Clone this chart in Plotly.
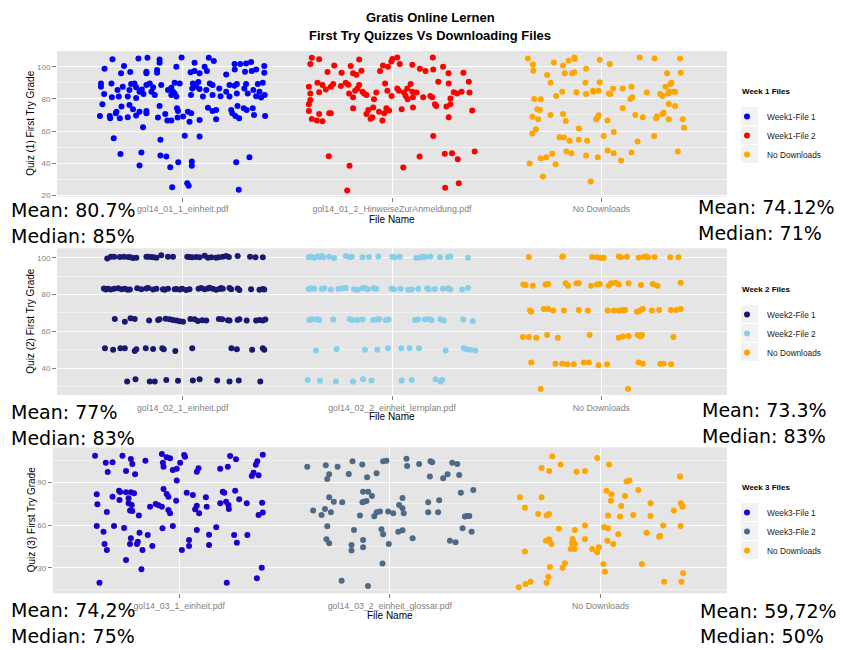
import plotly.graph_objects as go

# ---------------- data ----------------
title_lines = ["Gratis Online Lernen", "First Try Quizzes Vs Downloading Files"]

week1_files = ["gol14_01_1_einheit.pdf", "gol14_01_2_HinweiseZurAnmeldung.pdf", "No Downloads"]
week2_files = ["gol14_02_1_einheit.pdf", "gol14_02_2_einheit_lernplan.pdf", "No Downloads"]
week3_files = ["gol14_03_1_einheit.pdf", "gol14_03_2_einheit_glossar.pdf", "No Downloads"]

legend_titles = ["Week 1 Files", "Week 2 Files", "Week 3 Files"]
week1_names = ["Week1-File 1", "Week1-File 2", "No Downloads"]
week2_names = ["Week2-File 1", "Week2-File 2", "No Downloads"]
week3_names = ["Week3-File 1", "Week3-File 2", "No Downloads"]

stats_left = [("Mean: 80.7%", "Median: 85%"), ("Mean: 77%", "Median: 83%"), ("Mean: 74,2%", "Median: 75%")]
stats_right = [("Mean: 74.12%", "Median: 71%"), ("Mean: 73.3%", "Median: 83%"), ("Mean: 59,72%", "Median: 50%")]

# (jittered category position, grade)
w1_file1 = [
    (0.665,104.6),(0.72,100.4),(0.627,98.8),(0.789,105.2),(0.832,105.6),(0.89,104.5),(0.89,102.5),(0.995,105.8),(0.97,100),(1.057,97.3),
    (1.057,102.5),(1.125,105.6),(1.149,103.5),(1.105,100),(1.116,97.3),(1.038,96.5),(1.081,95.9),(1.248,101.7),(1.275,101.7),(1.303,102),
    (1.327,103),(1.351,98.3),(1.39,100.4),(1.39,96.3),(1.298,96.9),(1.33,97.3),(1.249,98.3),(1.208,95.2),(0.827,96.9),(0.827,95.9),
    (0.75,96.7),(0.706,95.9),(0.878,97.9),(0.878,96.3),
    (0.61,89.6),(0.61,87.6),(0.625,83.0),(0.66,89.6),(0.689,85.5),(0.662,81),(0.695,81.4),(0.714,87.6),(0.738,81.4),(0.746,85.5),
    (0.754,89.2),(0.77,89.6),(0.778,87.2),(0.794,84.5),(0.805,85.9),(0.813,83),(0.778,80.6),(0.827,88.6),(0.843,89.6),(0.859,87.2),
    (0.851,84.5),(0.867,82.4),(0.898,88.6),(0.93,85.5),(0.946,87),(0.946,82.4),(0.962,90),(0.954,84.5),(0.986,89.6),(0.97,81.4),
    (0.962,83.4),(1.04,82.4),(1.046,86.5),(1.049,89.6),(1.065,87.6),(1.075,90.5),(1.081,86.1),(1.113,85.5),(1.13,89.6),(1.143,88.6),
    (1.097,81.4),(1.143,82.4),(1.175,86.5),(1.181,81.7),(1.224,88.6),(1.208,84.5),(1.224,81.4),(1.248,88.2),(1.259,89.2),(1.259,83.4),
    (1.295,86.5),(1.303,89.2),(1.311,83.4),(1.338,85.5),(1.351,81.7),(1.359,89.2),(1.375,80.8),(1.383,90),(1.367,84.5),(1.392,82.4),
    (0.605,69.4),(0.617,76.6),(0.652,69.4),(0.654,68),(0.684,72),(0.681,71),(0.708,75.2),(0.7,68),(0.738,68.6),(0.746,76.2),
    (0.763,73.5),(0.778,69.6),(0.794,72),(0.827,72.5),(0.827,71),(0.882,68.4),(0.89,75.6),(0.917,70.6),(0.927,66.5),(0.946,66.5),
    (0.973,74.1),(0.978,72.5),(0.976,68.4),(1.002,69),(1.025,72),(1.033,65.8),(1.041,71),(1.081,66.9),(1.121,74.5),(1.143,72.5),
    (1.16,73.1),(1.16,67.3),(1.232,73.1),(1.237,71),(1.252,69.4),(1.262,75.6),(1.27,68),(1.292,74.1),(1.306,73.1),(1.335,74.1),
    (1.341,70),(1.394,69.4),
    (0.811,62.3),(0.671,55.5),(0.894,54.5),(1.081,56.5),(1.01,57.1),(0.703,45.7),(0.803,46.6),(0.894,44.8),(0.922,44.1),(0.979,40.6),
    (0.941,37.5),(1.044,41),(1.044,38.3),(0.794,38.5),(1.256,40.6),(1.319,43.7),(0.95,25),(1.022,27.5),(1.029,25.9),(1.268,23.4),
]

w1_file2 = [
    (1.617,105.6),(1.610,101.7),(1.652,104.6),(1.603,87.6),(1.61,83.4),(1.61,79.3),(1.603,76.6),(1.603,72.5),(1.617,67.5),(1.641,66.5),
    (1.668,66),(1.652,70.6),(1.652,84.1),(1.644,90.1),(1.668,88.6),(1.684,85.9),(1.692,96.7),(1.7,71),(1.708,71),(1.708,87.6),
    (1.719,89.2),(1.724,100.8),(1.759,96.3),(1.756,88),(1.779,90.1),(1.792,88.8),(1.795,83.4),(1.803,100.4),(1.814,95.9),(1.814,81),
    (1.814,74.1),(1.83,95),(1.843,104.5),(1.854,97.5),(1.843,88.6),(1.835,86.5),(1.824,85.1),(1.859,84.5),(1.867,83.4),(1.878,82.4),
    (1.878,70.6),(1.887,73.1),(1.898,67.7),(1.906,68.6),(1.91,74.7),(1.914,79.7),(1.925,83.9),(1.938,72),(1.943,97.3),(1.957,100.8),
    (1.954,66.5),(1.967,89.6),(1.963,71),(1.973,74.1),(1.978,85.1),(1.981,100),(1.986,72.7),(1.997,103.3),(2.002,104.8),(2.025,105.8),
    (2.037,101.7),(1.998,81.8),(2.025,86.5),(2.033,85.1),(2.046,73.5),(2.057,83.9),(2.065,81.8),(2.073,86.5),(2.075,79.7),(2.089,89.2),
    (2.097,101.2),(2.097,84.5),(2.1,81),(2.1,74.7),(2.117,83.9),(2.133,98.8),(2.16,97.3),(2.149,81),(2.183,81.8),(2.192,81),
    (2.195,105.8),(2.197,98.3),(2.205,76.6),(2.211,75.6),(2.221,90.7),(2.244,100),(2.27,95.9),(2.271,89.6),(2.279,80.3),(2.279,76.6),
    (2.26,75.2),(2.295,84.1),(2.311,83.4),(2.332,84.5),(2.341,96.3),(2.367,90.7),(2.37,83.9),(2.383,72.7),(2.271,68.6),(2.197,56.9),
    (1.698,44.3),(1.797,38.3),(1.786,23),(2.054,37.3),(2.132,44.1),(2.252,45.8),(2.287,46.2),(2.314,42.4),(2.395,47.2),(2.254,24.6),
    (2.319,27.5),
]

w1_none = [
    (2.649,105.2),(2.673,101.4),(2.675,97.5),(2.741,94.8),(2.757,90.1),(2.773,102.7),(2.817,100.8),(2.844,103.7),(2.871,105.8),(2.873,104.8),
    (2.86,95.9),(2.871,96.5),(2.825,95.9),(2.927,98.8),(2.992,104.3),(3.04,101.7),(3.183,105.8),(3.254,105.2),(3.376,105.2),(3.314,95.9),
    (3.379,96.3),(2.924,90.1),(2.992,90.3),(2.679,79.9),(2.71,79.7),(2.784,81.8),(2.813,84.5),(2.881,84.1),(2.927,83),(2.963,84.5),
    (2.96,85.1),(2.987,85.1),(3.035,83.4),(3.043,83),(3.056,86.5),(3.102,86.5),(3.144,87.6),(3.138,79.9),(3.148,81),(3.217,83.9),
    (3.281,83),(3.292,81.8),(3.306,87.6),(3.33,89.2),(3.335,90.1),(3.325,84.5),(3.319,83.4),(3.346,84.5),(3.352,84.5),(3.322,76.8),
    (3.352,75.6),(2.694,73.5),(2.706,73.1),(2.671,68.9),(2.698,67.3),(2.757,70),(2.817,70.6),(2.83,66.3),(2.687,61.1),(2.67,58.4),
    (2.892,61.5),(2.987,69.8),(2.983,68.6),(2.975,67.3),(3.03,66.5),(3.102,74.1),(3.162,70),(3.198,68.6),(3.262,68),(3.265,69),
    (3.297,71.4),(3.292,70.6),(3.322,67.3),(3.389,67.3),(3.395,62.1),(2.8,56.1),(2.821,55.9),(2.848,54),(2.892,54.5),(2.932,54),
    (3.011,56.9),(3.059,59.4),(3.173,53.4),(3.252,56.9),(2.71,43.1),(2.737,43.7),(2.765,45.8),(2.781,39.3),(2.833,47.2),(2.857,46.2),
    (2.927,44.8),(2.983,43.7),(3.03,47.8),(3.059,46.2),(3.094,41.6),(3.144,46.6),(3.365,47.2),(2.657,39.8),(2.721,31.7),(2.949,28.6),
]

w2_file1 = [
    (0.640,99.6),(0.657,100.5),(0.673,100.5),(0.700,100.4),(0.719,100.5),(0.740,100.4),(0.751,100.2),(0.763,99.8),(0.779,100),(0.827,100.5),
    (0.838,100.5),(0.851,100.4),(0.862,100.2),(0.875,100),(0.898,101.3),(0.930,100.5),(0.954,100.5),(1.022,100.5),(1.033,100.4),(1.046,100.2),
    (1.065,100.4),(1.081,100.2),(1.105,101.1),(1.121,100),(1.137,100.2),(1.160,100),(1.173,100.2),(1.192,100.5),(1.208,100.9),(1.221,100.4),
    (1.263,100.9),(1.322,100.5),(1.348,100.2),(1.383,100.2),
    (0.624,83.3),(0.633,82.8),(0.644,83.1),(0.657,82.7),(0.673,83.2),(0.692,83.4),(0.708,82.9),(0.724,83.1),(0.737,82.6),(0.748,82.8),
    (0.783,83.4),(0.803,82.9),(0.827,83.3),(0.835,83.6),(0.859,82.8),(0.875,83.2),(0.906,82.9),(0.914,82.6),(0.930,83.1),(0.962,82.9),
    (0.970,83.0),(0.986,82.8),(0.998,83.2),(1.017,82.5),(1.033,82.9),(1.076,83.2),(1.089,83.6),(1.105,82.9),(1.121,83.3),(1.129,83.7),
    (1.144,83.1),(1.160,82.6),(1.176,83.0),(1.184,83.6),(1.192,83.2),(1.224,83.5),(1.232,82.9),(1.263,83.3),(1.271,82.5),(1.327,82.9),
    (1.367,82.6),(1.383,83.0),(1.390,82.7),
    (0.676,66.8),(0.724,65.3),(0.751,67.1),(0.771,66.8),(0.840,65.9),(0.883,66.2),(0.890,66.6),(0.919,66.9),(0.938,66.6),(0.954,66.2),
    (0.970,65.9),(0.986,65.5),(1.002,65.3),(1.037,66.8),(1.057,66.6),(1.073,65.7),(1.094,66.0),(1.113,65.9),(1.173,66.8),(1.189,66.6),
    (1.216,66.0),(1.224,65.9),(1.263,66.2),(1.271,66.6),(1.306,65.9),(1.351,65.9),(1.367,66.2),(1.383,65.9),(1.395,66.4),
    (0.629,50.9),(0.668,50.0),(0.703,50.9),(0.724,50.9),(0.771,49.4),(0.779,50.3),(0.824,50.9),(0.859,50.5),(0.903,50.9),(0.910,50.3),
    (0.965,49.4),(1.046,50.9),(1.233,50.9),(1.259,50.3),(1.332,50.0),(1.383,50.9),(1.390,50.0),
    (0.735,32.8),(0.775,34.1),(0.843,32.8),(0.867,32.8),(0.922,33.7),(0.978,33.2),(1.049,33.3),(1.081,34.1),(1.165,33.3),(1.224,32.8),
    (1.268,33.3),(1.371,32.8),
]

w2_file2 = [
    (1.602,100.2),(1.613,100.5),(1.629,100.0),(1.644,100.7),(1.656,100.4),(1.665,100.9),(1.671,100.2),(1.700,100.5),(1.724,99.8),(1.779,100.9),
    (1.798,100.2),(1.808,100.5),(1.859,100.2),(1.890,100.4),(1.935,100.7),(2.002,100.5),(2.013,100.2),(2.037,100.5),(2.116,99.8),(2.137,100.2),
    (2.149,100.5),(2.160,100.4),(2.184,100.7),(2.229,100.2),(2.267,100.4),(2.279,100.7),(2.363,100.0),
    (1.602,83.0),(1.613,83.4),(1.629,83.2),(1.665,83.0),(1.676,83.4),(1.708,82.8),(1.744,83.0),(1.763,83.4),(1.779,83.6),(1.819,82.9),
    (1.835,82.6),(1.859,83.4),(1.871,83.6),(1.883,82.9),(1.911,83.4),(1.925,83.2),(1.998,83.3),(2.010,82.7),(2.041,83.2),(2.078,82.6),
    (2.094,82.8),(2.125,83.2),(2.168,83.4),(2.176,82.8),(2.205,83.0),(2.243,83.2),(2.268,83.4),(2.279,82.8),(2.335,82.8),(2.363,83.6),
    (1.605,66.2),(1.617,66.6),(1.640,66.6),(1.652,66.2),(1.719,66.4),(1.798,66.6),(1.811,66.0),(1.835,66.2),(1.859,66.4),(1.910,66.2),
    (1.930,66.4),(1.938,66.6),(1.970,66.2),(1.983,66.4),(2.110,66.2),(2.125,66.4),(2.157,66.4),(2.176,66.6),(2.189,66.0),(2.232,66.6),
    (2.248,65.9),(2.340,66.4),(2.386,65.7),
    (1.637,49.6),(1.735,50.5),(1.871,50.0),(1.930,50.0),(1.981,50.9),(2.044,50.9),(2.084,50.9),(2.129,50.9),(2.256,49.6),(2.343,50.9),
    (2.356,50.3),(2.375,50.0),(2.398,49.6),
    (1.597,33.7),(1.656,33.2),(1.732,32.8),(1.814,32.8),(1.862,34.1),(1.902,33.3),(2.046,33.3),(2.094,33.7),(2.208,34.1),(2.232,32.8),
    (2.240,33.7),
]

w2_none = [
    (2.654,100.4),(2.813,100.5),(2.817,100.7),(2.956,100.4),(2.979,100.2),(2.995,100.0),(3.003,99.8),(3.011,100.0),(3.083,100.7),(3.094,100.2),
    (3.122,100.5),(3.178,100.0),(3.202,100.5),(3.214,100.7),(3.222,100.2),(3.254,100.4),(3.329,100.2),(3.368,100.2),
    (2.627,85.5),(2.638,85.2),(2.673,84.8),(2.733,85.5),(2.746,85.7),(2.829,86.1),(2.841,84.8),(2.881,86.1),(2.892,86.1),(2.951,84.8),
    (2.979,85.5),(2.992,85.7),(3.035,84.8),(3.046,86.1),(3.067,86.4),(3.083,85.5),(3.130,86.1),(3.189,85.2),(3.246,85.7),(3.268,84.8),
    (3.379,86.4),
    (2.659,71.3),(2.665,70.7),(2.725,72.2),(2.746,72.2),(2.770,71.3),(2.821,71.3),(2.892,71.6),(2.935,71.3),(3.030,71.3),(3.059,71.3),
    (3.083,71.3),(3.103,71.6),(3.114,71.6),(3.170,70.7),(3.183,71.3),(3.198,72.2),(3.241,71.3),(3.276,71.6),(3.332,71.6),(3.357,71.6),
    (3.379,72.2),
    (2.625,57.0),(2.654,57.0),(2.689,56.6),(2.741,58.1),(2.792,56.6),(2.944,58.1),(3.083,56.6),(3.103,57.2),(3.130,57.5),(3.173,58.1),
    (3.186,57.2),(3.194,58.1),(3.344,57.0),
    (2.665,43.1),(2.781,42.4),(2.813,42.4),(2.837,42.2),(2.868,42.2),(2.916,43.1),(2.940,43.1),(2.987,41.6),(3.027,42.2),(3.178,43.1),
    (3.198,42.5),(3.281,42.4),(3.297,42.5),(3.333,42.2),
    (2.710,28.8),(3.127,28.8),
]

w3_file1 = [
    (0.601,108.7),(0.652,103.8),(0.684,104.1),(0.661,97.3),(0.731,108.7),(0.771,106.4),(0.778,102.9),(0.748,98),(0.791,95.6),(0.84,105.2),
    (0.918,109.9),(0.923,103.8),(0.926,101),(0.941,107.6),(0.957,106.9),(0.97,98.7),(0.989,99.6),(1.005,103.8),(1.024,109.2),(1.028,108),
    (0.989,91.2),(1.084,97.5),(1.092,99.8),(1.195,99.6),(1.231,101),(1.242,108.5),(1.27,106.2),(1.345,94.4),(1.353,96.8),(1.364,102.4),
    (1.371,104.8),(1.377,94.9),(1.397,109.4),
    (0.609,81.6),(0.612,74.5),(0.657,69.2),(0.684,79.9),(0.715,84.1),(0.72,83.2),(0.717,77.6),(0.748,83),(0.76,78.8),(0.76,75.2),
    (0.771,83),(0.775,74.1),(0.767,70.1),(0.778,69.9),(0.786,82.3),(0.809,66.6),(0.862,72.9),(0.889,74.8),(0.902,73.8),(0.918,72.9),
    (0.926,85.3),(0.941,81.8),(0.949,79.9),(0.949,70.6),(0.957,68.2),(0.986,77.1),(1.036,82.7),(1.065,81.1),(1.076,71),(1.084,73.6),
    (1.095,68.2),(1.127,79.5),(1.131,72.9),(1.195,75.2),(1.207,83.4),(1.214,82.7),(1.223,76.4),(1.234,74.1),(1.236,71.3),(1.266,84.1),
    (1.285,78.1),(1.321,75.2),(1.394,75.7),(1.397,68.7),(1.377,67),
    (0.609,59.3),(0.641,55.3),(0.646,46.7),(0.657,42.5),(0.691,59.3),(0.739,57.9),(0.748,35.4),(0.771,50.7),(0.767,46.7),(0.8,46.7),
    (0.804,48.3),(0.812,54.6),(0.826,42.5),(0.851,53),(0.873,45.3),(0.921,57.7),(0.97,59.3),(1.013,42.5),(1.047,49.5),(1.047,45.3),
    (1.084,56.5),(1.142,53.2),(1.142,46),(1.176,58.4),(1.261,53),(1.274,47.6),(1.324,53),
    (0.622,19.5),(0.821,28.9),(1.226,19.5),(1.369,22.6),(1.392,30),
]

w3_file2 = [
    (1.608,101),(1.696,101.9),(1.752,101),(1.823,104.8),(1.869,102.6),(1.968,104.8),(1.984,105.2),(2.079,106.6),(2.082,101.5),(2.139,102.9),
    (2.193,104.8),(2.201,104.1),(2.296,103.8),(2.32,102.9),(1.712,95.6),(1.703,92.3),(1.805,95.9),(1.892,93.5),(1.937,96.3),(2.19,94),
    (2.253,92.8),(2.274,95.6),(2.329,95.2),(1.873,83.4),(1.897,83.4),(1.877,76.4),(1.889,76.9),(1.87,75.9),(1.915,80.4),(1.712,79.5),
    (1.734,76.4),(1.774,75.9),(1.636,70.1),(1.676,67.1),(1.692,71.3),(1.72,68.9),(1.858,66.6),(1.926,66.1),(1.937,68.9),(1.953,69.4),
    (1.992,69.4),(2.016,68.2),(2.044,74.1),(2.06,71.7),(2.06,79),(2.066,68.2),(2.182,75.9),(2.182,68.9),(2.229,68.9),(2.234,77.4),
    (2.337,82.7),(2.396,84.6),(2.356,65.9),(2.367,66.3),(2.377,66.3),(1.703,59.1),(1.83,56.5),(1.96,57),(1.968,53.5),(2.04,55.3),
    (2.06,56.3),(2.108,50.7),(2.345,57.7),(2.388,55.3),(1.699,50),(1.712,47.1),(1.818,46),(1.818,42),(1.873,49.5),(1.873,44.3),
    (1.995,46.7),(2.285,49),(2.312,47.8),(1.965,32.9),(1.771,20.9),(1.896,17.2),
]

w3_none = [
    (2.771,108.3),(2.984,107.1),(2.72,100.1),(2.756,98),(2.81,102.6),(2.886,97.5),(2.926,98),(3.041,102.6),(3.123,90.5),(3.136,91.2),
    (3.377,94),(3.028,84.1),(3.052,81.6),(3.049,77.1),(3.116,80.4),(3.179,84.6),(2.617,79.5),(2.72,79.5),(2.641,72.2),(2.704,67.8),
    (2.744,66.6),(2.755,67.8),(3.036,66.6),(3.092,65.9),(3.098,73.4),(3.155,67.1),(3.237,75.2),(3.237,66.3),(3.348,70.1),(3.381,75.2),
    (3.389,72.9),(3.386,74.1),(2.802,57.4),(2.878,56.5),(2.926,59.6),(3.017,58.4),(3.036,57.7),(3.218,54.6),(3.278,51.8),(3.282,52.5),
    (3.297,59.6),(3.38,59.3),(2.741,49),(2.756,50),(2.767,46.7),(2.867,50.2),(2.87,48.3),(2.878,46.7),(2.864,47.1),(2.926,50),
    (2.858,43.2),(2.877,43.2),(2.96,43.2),(2.992,44.3),(2.984,40.8),(3.032,49),(3.06,46.7),(3.084,53.5),(2.641,41.3),(2.76,30.5),
    (2.82,30),(2.831,33.1),(3.013,32.6),(3.021,27.2),(3.196,32.6),(3.392,26.1),(2.612,16.2),(2.644,18.6),(2.668,20.2),(2.744,19.5),
    (2.752,23.7),(3.302,20.2),(3.384,20.2),
]

colors = {
    "w1f1": "#0000FF", "w1f2": "#FF0000",
    "w2f1": "#191970", "w2f2": "#87CEEB",
    "w3f1": "#1A00D0", "w3f2": "#4E6A86",
    "none": "#FFA500",
}

# ---------------- figure ----------------
W, H = 843, 650
fig = go.Figure()


def add_series(points, name, color, xa, ya, legend):
    fig.add_trace(go.Scatter(
        x=[p[0] for p in points], y=[p[1] for p in points],
        mode="markers", name=name,
        marker=dict(color=color, size=6, line=dict(width=0)),
        xaxis=xa, yaxis=ya, legend=legend, showlegend=True,
        hoverinfo="x+y",
    ))


add_series(w1_file1, week1_names[0], colors["w1f1"], "x", "y", "legend")
add_series(w1_file2, week1_names[1], colors["w1f2"], "x", "y", "legend")
add_series(w1_none, week1_names[2], colors["none"], "x", "y", "legend")
add_series(w2_file1, week2_names[0], colors["w2f1"], "x2", "y2", "legend2")
add_series(w2_file2, week2_names[1], colors["w2f2"], "x2", "y2", "legend2")
add_series(w2_none, week2_names[2], colors["none"], "x2", "y2", "legend2")
add_series(w3_file1, week3_names[0], colors["w3f1"], "x3", "y3", "legend3")
add_series(w3_file2, week3_names[1], colors["w3f2"], "x3", "y3", "legend3")
add_series(w3_none, week3_names[2], colors["none"], "x3", "y3", "legend3")

xtick_font = dict(family="Liberation Sans, Arial, sans-serif", size=8.8, color="#7F7F7F")
ytick_font = dict(family="Liberation Sans, Arial, sans-serif", size=8, color="#7F7F7F")


def xaxis(files, left_px, anchor):
    return dict(domain=[left_px / W, 727 / W], anchor=anchor, range=[0.4, 3.6],
                tickmode="array", tickvals=[1, 2, 3], ticktext=files,
                showgrid=True, gridcolor="white", gridwidth=1.1, zeroline=False,
                ticks="outside", ticklen=4, tickcolor="#7F7F7F", tickwidth=1,
                tickfont=xtick_font, showline=False, automargin=False, fixedrange=True)


def yaxis(top_px, bot_px, rng, dtick, anchor):
    return dict(domain=[1 - bot_px / H, 1 - top_px / H], anchor=anchor, range=rng,
                tick0=0, dtick=dtick, showgrid=True, gridcolor="white", gridwidth=1.1,
                minor=dict(tick0=0, dtick=dtick / 2, showgrid=True, gridcolor="#F2F2F2", gridwidth=0.6),
                zeroline=False, ticks="outside", ticklen=4, tickcolor="#7F7F7F", tickwidth=1,
                tickfont=ytick_font, showline=False, automargin=False, fixedrange=True)


legend_common = dict(xanchor="left", yanchor="top", bgcolor="rgba(0,0,0,0)",
                     font=dict(family="Liberation Sans, Arial, sans-serif", size=8.3, color="#1a1a1a"),
                     traceorder="normal", itemclick=False, itemdoubleclick=False)

first_item_y = [116, 314, 512]   # pixel rows of the first legend entry
legend_title_y = [91, 289, 487]

fig.update_layout(
    width=W, height=H, autosize=False,
    margin=dict(l=0, r=0, t=0, b=0),
    paper_bgcolor="white", plot_bgcolor="#E5E5E5",
    xaxis=xaxis(week1_files, 57, "y"),
    yaxis=yaxis(51, 196.7, [19.1, 109.8], 20, "x"),
    xaxis2=xaxis(week2_files, 57, "y2"),
    yaxis2=yaxis(248.3, 395, [25.5, 105.1], 20, "x2"),
    xaxis3=xaxis(week3_files, 52.7, "y3"),
    yaxis3=yaxis(447.3, 593.3, [12.0, 114.6], 30, "x3"),
    legend=dict(x=727 / W, y=1 - (first_item_y[0] - 14) / H, **legend_common),
    legend2=dict(x=727 / W, y=1 - (first_item_y[1] - 14) / H, **legend_common),
    legend3=dict(x=727 / W, y=1 - (first_item_y[2] - 14) / H, **legend_common),
    hovermode="closest",
)

font_title = dict(family="Liberation Sans, Arial, sans-serif", size=13, color="black")
font_axis = dict(family="Liberation Sans, Arial, sans-serif", size=10, color="black")
font_stat = dict(family="DejaVu Sans, Verdana, sans-serif", size=19, color="black")
font_leg_title = dict(family="Liberation Sans, Arial, sans-serif", size=8, color="black")

ann = []
ann.append(dict(text="<b>" + title_lines[0] + "</b>", x=430 / W, y=1 - 18 / H))
ann.append(dict(text="<b>" + title_lines[1] + "</b>", x=430 / W, y=1 - 36 / H))
for a in ann:
    a.update(xref="paper", yref="paper", xanchor="center", yanchor="middle", showarrow=False, font=font_title)

for i in range(3):
    ann.append(dict(text="<b>" + legend_titles[i] + "</b>", x=740 / W, y=1 - legend_title_y[i] / H,
                    xref="paper", yref="paper", xanchor="left", yanchor="middle", showarrow=False,
                    font=font_leg_title))

for cy, cx in [(219.3, 392), (416.7, 392), (615, 390)]:
    ann.append(dict(text="File Name", x=cx / W, y=1 - cy / H, xref="paper", yref="paper",
                    xanchor="center", yanchor="middle", showarrow=False, font=font_axis))
for i, cy in enumerate([123.8, 321.7, 520.3]):
    ann.append(dict(text="Quiz (%d) First Try Grade" % (i + 1), x=31 / W, y=1 - cy / H, xref="paper", yref="paper",
                    xanchor="center", yanchor="middle", textangle=-90, showarrow=False, font=font_axis))

left_y = [(210, 236), (412, 438), (610, 636)]
right_y = [(207, 233), (410, 436), (611, 636)]
right_x = [696, 700, 698]
for i in range(3):
    for j in range(2):
        ann.append(dict(text=stats_left[i][j], x=9 / W, y=1 - left_y[i][j] / H, xref="paper", yref="paper",
                        xanchor="left", yanchor="middle", showarrow=False, font=font_stat))
        ann.append(dict(text=stats_right[i][j], x=right_x[i] / W, y=1 - right_y[i][j] / H, xref="paper", yref="paper",
                        xanchor="left", yanchor="middle", showarrow=False, font=font_stat))
fig.update_layout(annotations=ann)

# ggplot-like legend key backgrounds
shapes = []
for first in first_item_y:
    for k in range(3):
        cy = first + 19 * k
        shapes.append(dict(type="rect", xref="paper", yref="paper", layer="below",
                           x0=741 / W, x1=758 / W, y0=1 - (cy + 9) / H, y1=1 - (cy - 9) / H,
                           fillcolor="#F2F2F2", line=dict(width=0)))
fig.update_layout(shapes=shapes)

fig.write_html("out.html", config={"displayModeBar": False},
               post_script="document.body.style.margin='0';")
